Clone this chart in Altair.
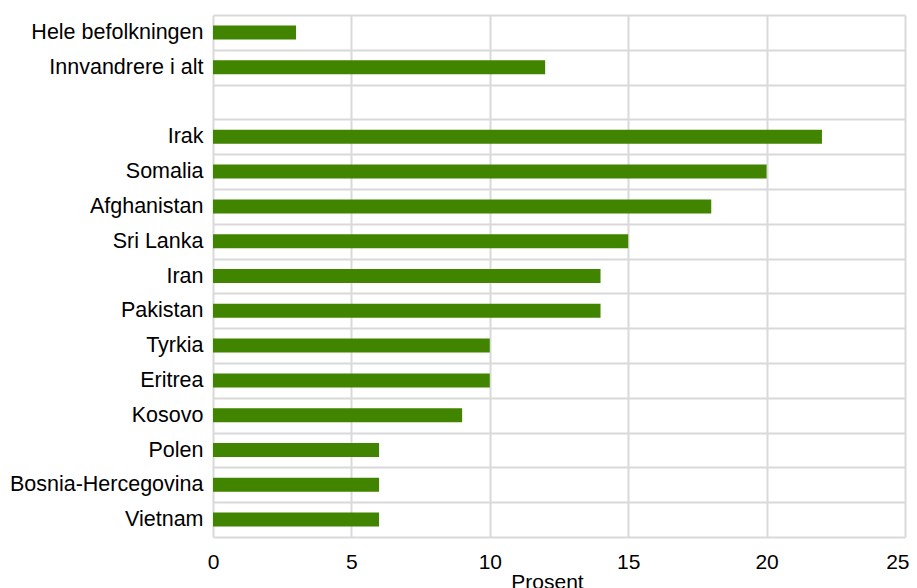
import altair as alt
import pandas as pd

categories = ["Hele befolkningen", "Innvandrere i alt", " ", "Irak", "Somalia",
              "Afghanistan", "Sri Lanka", "Iran", "Pakistan", "Tyrkia", "Eritrea",
              "Kosovo", "Polen", "Bosnia-Hercegovina", "Vietnam"]
values = [3, 12, None, 22, 20, 18, 15, 14, 14, 10, 10, 9, 6, 6, 6]
x_ticks = [0, 5, 10, 15, 20, 25]

df = pd.DataFrame({"land": categories, "prosent": values})

FONT = "Liberation Sans"
GRID = "#d9d9d9"
FS = 21

chart = alt.Chart(df).mark_bar(color="#408400", size=14).encode(
    x=alt.X("prosent:Q",
            scale=alt.Scale(domain=[0, 25], nice=False),
            axis=alt.Axis(values=x_ticks, title="Prosent", grid=True, gridColor=GRID,
                          gridWidth=2, domain=False, ticks=False, labelPadding=14,
                          labelFontSize=FS, labelFont=FONT, labelColor="#000000",
                          labelAlign=alt.ExprRef("datum.value == 25 ? 'right' : 'center'"),
                          labelOffset=alt.ExprRef("datum.value == 25 ? 4 : 0"),
                          titleFont=FONT, titleFontSize=FS, titleFontWeight="normal",
                          titleColor="#000000", titlePadding=-1, titleX=334,
                          labelFlush=False)),
    y=alt.Y("land:N", sort=categories,
            scale=alt.Scale(paddingInner=0, paddingOuter=0),
            axis=alt.Axis(title=None, grid=True, gridColor=GRID, gridWidth=2,
                          tickBand="extent", domain=False, ticks=False,
                          labelPadding=10, labelFontSize=21.5, labelFont=FONT,
                          labelColor="#000000", labelLimit=400)),
).properties(
    width=692, height=522,
    autosize=alt.AutoSizeParams(type="none"),
    padding={"left": 205, "top": 7, "right": 4, "bottom": 60},
).configure_view(stroke=None)

chart.save("out.html", embed_options={"renderer": "svg", "actions": False})
